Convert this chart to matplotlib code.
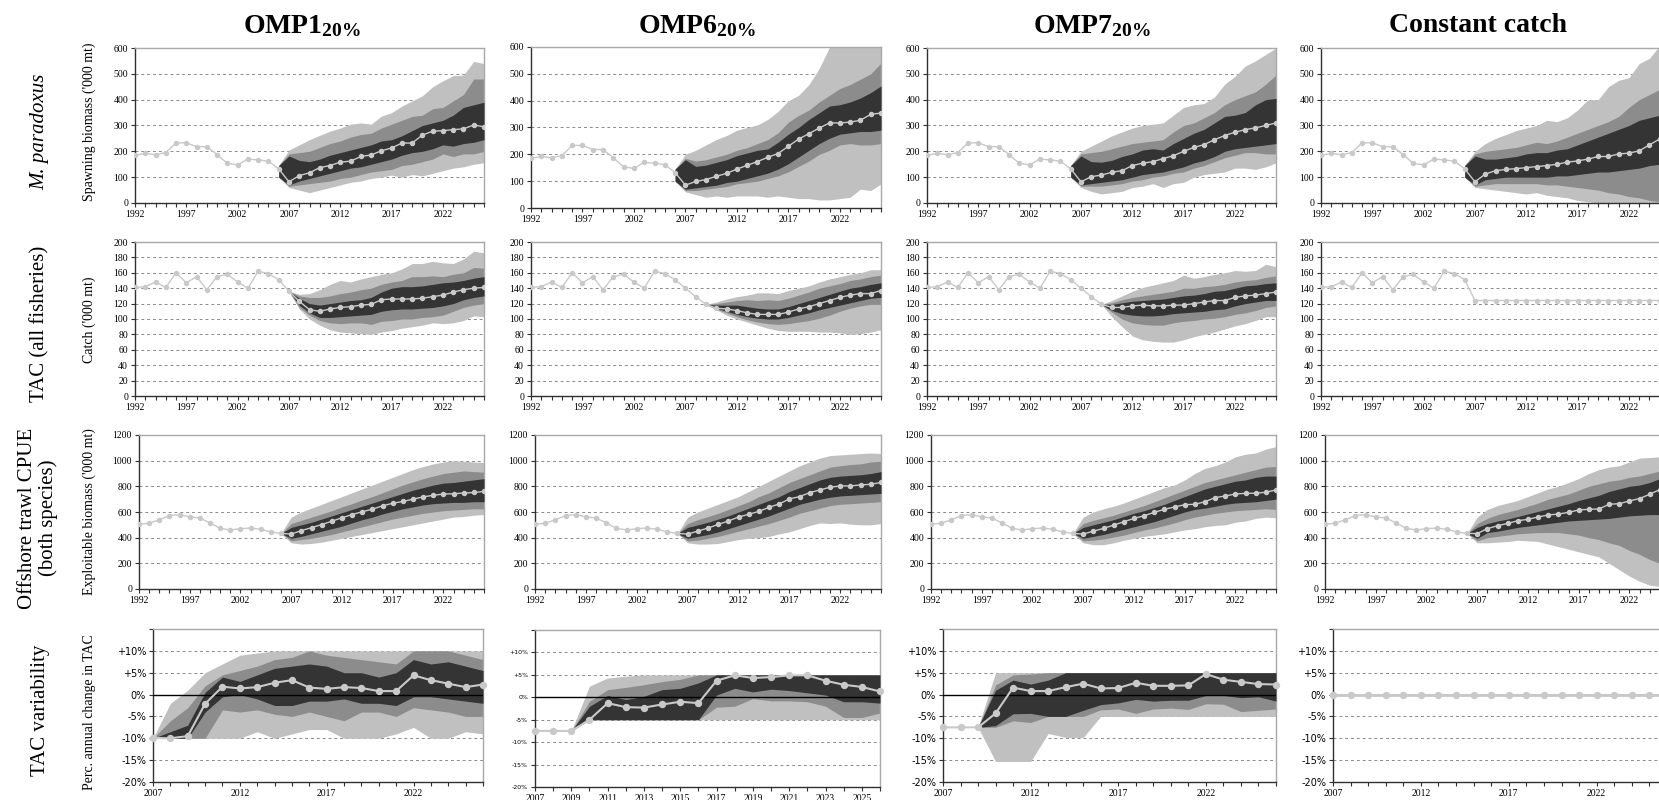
import matplotlib
matplotlib.use('Agg')
import matplotlib.pyplot as plt

plt.rcParams['font.family'] = ['Liberation Serif', 'DejaVu Serif']
plt.rcParams['mathtext.fontset'] = 'custom'
plt.rcParams['mathtext.rm'] = 'Liberation Serif'
plt.rcParams['mathtext.bf'] = 'Liberation Serif:bold'
plt.rcParams['mathtext.it'] = 'Liberation Serif:italic'

# ---------------- data ----------------
YEARS_HIST = list(range(1992, 2007))          # 1992..2006
YEARS_PROJ = list(range(2007, 2027))          # 2007..2026
YEARS_BAND_SSB = list(range(2006, 2027))      # fan starts 2006
YEARS_BAND_LATE = list(range(2009, 2027))     # fan starts 2009
COLUMN_TITLES = [r'$\mathbf{OMP1}_{\mathbf{20\%}}$', r'$\mathbf{OMP6}_{\mathbf{20\%}}$',
                 r'$\mathbf{OMP7}_{\mathbf{20\%}}$', 'Constant catch']
ROW_LABELS = ['M. paradoxus', 'TAC (all fisheries)', 'Offshore trawl CPUE\n(both species)', 'TAC variability']
Y_LABELS = ["Spawning biomass ('000 mt)", "Catch ('000 mt)", "Exploitable biomass ('000 mt)",
            "Perc. annual change in TAC"]

# Row 1: spawning biomass
SSB_HIST = [185, 192, 187, 195, 233, 233, 218, 218, 187, 153, 148, 170, 167, 162, 132]
SSB_OMP1_MED = [82, 106, 117, 137, 145, 158, 162, 180, 186, 202, 213, 232, 232, 263, 278, 280, 284, 287, 302, 295]
SSB_OMP1_LIGHT_HI = [145, 205, 225, 245, 262, 278, 290, 305, 310, 305, 336, 350, 375, 395, 415, 450, 473, 493, 495, 548, 540]
SSB_OMP1_MID_HI = [145, 190, 195, 200, 215, 230, 240, 255, 265, 270, 290, 305, 320, 335, 340, 365, 370, 395, 420, 480, 480]
SSB_OMP1_DARK_HI = [145, 182, 165, 160, 170, 185, 195, 205, 215, 225, 240, 245, 260, 280, 300, 310, 320, 340, 370, 380, 390]
SSB_OMP1_DARK_LO = [100, 70, 85, 95, 105, 115, 125, 135, 140, 150, 160, 170, 185, 195, 200, 210, 225, 220, 230, 235, 245]
SSB_OMP1_MID_LO = [100, 65, 70, 75, 80, 85, 95, 100, 110, 120, 125, 130, 145, 150, 160, 170, 190, 180, 190, 190, 200]
SSB_OMP1_LIGHT_LO = [100, 60, 50, 40, 50, 60, 70, 80, 85, 95, 100, 108, 100, 110, 105, 115, 125, 135, 140, 150, 156]

SSB_OMP6_MED = [85, 99, 106, 118, 129, 145, 159, 173, 189, 203, 230, 257, 277, 298, 317, 317, 320, 327, 349, 354]
SSB_OMP6_LIGHT_HI = [145, 200, 215, 235, 255, 270, 290, 300, 310, 330, 360, 400, 420, 460, 520, 600, 650, 650, 650, 650, 650]
SSB_OMP6_MID_HI = [145, 185, 175, 180, 190, 200, 215, 225, 240, 255, 280, 320, 345, 365, 395, 420, 445, 460, 480, 500, 540]
SSB_OMP6_DARK_HI = [145, 180, 155, 160, 170, 180, 195, 205, 215, 220, 245, 275, 300, 330, 355, 380, 385, 395, 410, 430, 455]
SSB_OMP6_DARK_LO = [100, 70, 75, 80, 85, 95, 100, 110, 120, 130, 145, 165, 190, 215, 240, 260, 275, 280, 285, 285, 290]
SSB_OMP6_MID_LO = [100, 65, 65, 70, 75, 80, 90, 95, 100, 110, 120, 135, 155, 175, 200, 215, 235, 240, 235, 235, 240]
SSB_OMP6_LIGHT_LO = [100, 60, 50, 40, 45, 40, 45, 45, 45, 40, 45, 40, 35, 35, 30, 30, 35, 40, 70, 65, 90]

SSB_OMP7_MED = [82, 102, 108, 119, 125, 145, 154, 160, 172, 183, 200, 215, 226, 245, 261, 274, 284, 291, 300, 310]
SSB_OMP7_LIGHT_HI = [145, 200, 220, 240, 260, 275, 290, 300, 305, 310, 340, 370, 380, 385, 410, 460, 490, 530, 550, 575, 600]
SSB_OMP7_MID_HI = [145, 190, 195, 200, 210, 220, 230, 235, 240, 245, 275, 300, 310, 330, 350, 380, 400, 415, 430, 460, 495]
SSB_OMP7_DARK_HI = [145, 182, 160, 158, 165, 180, 190, 205, 210, 205, 230, 250, 270, 285, 310, 335, 340, 350, 380, 400, 405]
SSB_OMP7_DARK_LO = [100, 70, 75, 80, 85, 90, 100, 110, 115, 120, 130, 140, 155, 165, 180, 200, 210, 215, 220, 225, 230]
SSB_OMP7_MID_LO = [100, 65, 65, 65, 70, 75, 85, 90, 100, 105, 115, 120, 135, 145, 160, 175, 185, 195, 195, 190, 190]
SSB_OMP7_LIGHT_LO = [100, 60, 45, 35, 40, 45, 60, 65, 75, 60, 75, 80, 100, 110, 115, 120, 135, 135, 130, 140, 155]

SSB_CONST_MED = [82, 112, 125, 130, 133, 137, 141, 145, 150, 158, 163, 170, 180, 180, 190, 193, 202, 225, 248, 275]
SSB_CONST_LIGHT_HI = [145, 200, 230, 250, 265, 280, 290, 300, 320, 315, 330, 360, 400, 400, 450, 475, 485, 540, 560, 610, 650]
SSB_CONST_MID_HI = [145, 190, 200, 205, 210, 215, 225, 235, 230, 240, 255, 270, 285, 300, 315, 335, 370, 400, 420, 440, 450]
SSB_CONST_DARK_HI = [145, 182, 170, 170, 175, 180, 190, 195, 195, 205, 210, 225, 240, 255, 270, 285, 300, 320, 330, 340, 350]
SSB_CONST_DARK_LO = [100, 70, 90, 95, 100, 100, 100, 100, 100, 105, 105, 110, 115, 120, 120, 125, 130, 135, 145, 150, 160]
SSB_CONST_MID_LO = [100, 65, 70, 75, 75, 75, 75, 75, 70, 70, 65, 60, 55, 50, 40, 35, 25, 20, 10, 5, 5]
SSB_CONST_LIGHT_LO = [100, 60, 55, 50, 45, 40, 35, 40, 30, 25, 20, 10, 5, 0, 0, 0, 0, 0, 0, 0, 0]

# Row 2: catch / TAC
CATCH_HIST = [141, 142, 148, 141, 160, 147, 155, 138, 155, 158, 148, 140, 162, 159, 151]
CATCH_0709 = [140, 129, 119]
CATCH_OMP1_MED = [136, 123, 112, 110, 113, 115, 116, 118, 119, 125, 126, 126, 126, 127, 129, 131, 135, 138, 140, 141]
CATCH_OMP1_LIGHT_HI = [136, 132, 133, 138, 145, 150, 148, 152, 155, 158, 160, 165, 172, 172, 175, 173, 172, 178, 188, 186]
CATCH_OMP1_MID_HI = [136, 130, 128, 128, 130, 133, 135, 138, 140, 145, 148, 150, 155, 155, 156, 155, 158, 160, 167, 166]
CATCH_OMP1_DARK_HI = [136, 127, 120, 118, 120, 122, 124, 125, 128, 135, 140, 142, 142, 143, 145, 147, 148, 150, 153, 155]
CATCH_OMP1_DARK_LO = [136, 118, 108, 102, 102, 103, 104, 105, 106, 110, 112, 113, 113, 114, 115, 117, 120, 125, 128, 130]
CATCH_OMP1_MID_LO = [136, 115, 105, 98, 95, 94, 95, 95, 93, 97, 98, 100, 100, 102, 103, 105, 110, 115, 118, 120]
CATCH_OMP1_LIGHT_LO = [136, 113, 100, 92, 86, 83, 82, 81, 80, 83, 85, 88, 90, 92, 95, 94, 95, 98, 104, 103]

CATCH_OMP6_MED = [114, 113, 111, 108, 106, 106, 106, 109, 113, 116, 120, 124, 128, 131, 133, 133, 137]
CATCH_OMP6_LIGHT_HI = [119, 122, 126, 129, 131, 134, 134, 133, 137, 140, 143, 148, 152, 155, 158, 160, 164, 164]
CATCH_OMP6_MID_HI = [119, 120, 122, 124, 125, 124, 125, 124, 127, 131, 135, 140, 143, 146, 150, 152, 155, 157]
CATCH_OMP6_DARK_HI = [119, 118, 118, 118, 116, 114, 113, 113, 116, 120, 124, 128, 132, 136, 140, 142, 145, 147]
CATCH_OMP6_DARK_LO = [119, 114, 110, 106, 103, 101, 100, 100, 102, 105, 108, 112, 115, 118, 121, 124, 127, 128]
CATCH_OMP6_MID_LO = [119, 113, 108, 103, 99, 96, 94, 93, 94, 96, 98, 101, 105, 110, 114, 117, 119, 119]
CATCH_OMP6_LIGHT_LO = [119, 112, 105, 100, 96, 92, 88, 85, 84, 84, 84, 83, 83, 82, 80, 81, 83, 86]

CATCH_OMP7_MED = [115, 115, 117, 118, 117, 117, 118, 118, 120, 122, 124, 124, 128, 130, 131, 133, 135]
CATCH_OMP7_LIGHT_HI = [119, 124, 130, 136, 141, 144, 147, 150, 157, 153, 155, 158, 160, 163, 162, 163, 171, 168]
CATCH_OMP7_MID_HI = [119, 121, 125, 128, 130, 132, 134, 136, 140, 140, 142, 143, 145, 148, 150, 151, 154, 156]
CATCH_OMP7_DARK_HI = [119, 119, 121, 123, 124, 125, 126, 128, 130, 131, 133, 136, 137, 140, 143, 144, 146, 147]
CATCH_OMP7_DARK_LO = [119, 111, 107, 105, 104, 104, 105, 107, 108, 109, 110, 112, 113, 117, 120, 122, 124, 124]
CATCH_OMP7_MID_LO = [119, 109, 100, 95, 93, 92, 92, 95, 97, 98, 100, 101, 103, 106, 108, 111, 115, 117]
CATCH_OMP7_LIGHT_LO = [119, 103, 90, 78, 73, 71, 70, 70, 73, 77, 80, 83, 87, 91, 94, 98, 103, 103]

CATCH_CONST = [124, 124, 124, 124, 124, 124, 124, 124, 124, 124, 124, 124, 124, 124, 124, 124, 124, 124, 124, 124]

# Row 3: exploitable biomass (CPUE)
CPUE_HIST = [505, 512, 540, 572, 580, 562, 553, 515, 473, 460, 470, 475, 465, 445, 433]
CPUE_OMP1_MED = [428, 455, 478, 502, 528, 555, 580, 602, 622, 648, 668, 682, 700, 718, 730, 740, 742, 748, 752, 760]
CPUE_OMP1_LIGHT_HI = [433, 560, 600, 630, 660, 690, 720, 750, 780, 810, 840, 870, 900, 930, 955, 975, 990, 1000, 995, 990, 985]
CPUE_OMP1_MID_HI = [433, 510, 535, 560, 585, 610, 640, 665, 695, 720, 750, 780, 810, 835, 860, 880, 900, 910, 920, 915, 910]
CPUE_OMP1_DARK_HI = [433, 480, 500, 520, 545, 570, 595, 620, 645, 670, 695, 720, 745, 770, 790, 810, 825, 830, 840, 850, 860]
CPUE_OMP1_DARK_LO = [433, 395, 410, 430, 450, 470, 490, 515, 540, 560, 585, 605, 625, 640, 655, 665, 670, 675, 675, 680, 680]
CPUE_OMP1_MID_LO = [433, 375, 385, 395, 410, 425, 445, 465, 485, 505, 525, 545, 560, 575, 590, 600, 610, 615, 620, 625, 625]
CPUE_OMP1_LIGHT_LO = [433, 360, 350, 355, 365, 380, 395, 410, 425, 440, 455, 470, 485, 500, 515, 530, 545, 560, 565, 575, 580]

CPUE_OMP6_MED = [428, 451, 475, 503, 530, 561, 582, 605, 637, 663, 702, 720, 751, 772, 793, 803, 803, 811, 816, 830]
CPUE_OMP6_LIGHT_HI = [433, 560, 600, 630, 660, 690, 720, 760, 800, 840, 880, 920, 960, 990, 1020, 1040, 1045, 1050, 1055, 1060, 1055]
CPUE_OMP6_MID_HI = [433, 510, 540, 565, 590, 620, 650, 680, 720, 750, 790, 830, 860, 890, 920, 950, 960, 970, 975, 990, 995]
CPUE_OMP6_DARK_HI = [433, 480, 500, 520, 545, 570, 600, 630, 660, 690, 720, 760, 790, 820, 850, 870, 880, 885, 890, 900, 915]
CPUE_OMP6_DARK_LO = [433, 395, 410, 425, 445, 470, 495, 520, 545, 570, 600, 630, 660, 680, 700, 715, 725, 730, 735, 740, 745]
CPUE_OMP6_MID_LO = [433, 375, 380, 395, 410, 430, 450, 470, 490, 510, 535, 560, 590, 610, 630, 650, 660, 665, 670, 675, 680]
CPUE_OMP6_LIGHT_LO = [433, 360, 350, 350, 355, 370, 385, 395, 400, 410, 430, 445, 470, 495, 515, 510, 515, 505, 500, 500, 510]

CPUE_OMP7_MED = [428, 451, 472, 498, 524, 550, 571, 597, 621, 639, 657, 660, 680, 712, 725, 740, 746, 746, 754, 772]
CPUE_OMP7_LIGHT_HI = [433, 560, 600, 625, 645, 670, 700, 730, 760, 790, 810, 850, 900, 940, 960, 990, 1030, 1050, 1060, 1090, 1110]
CPUE_OMP7_MID_HI = [433, 510, 535, 555, 575, 600, 625, 650, 680, 710, 740, 770, 800, 830, 850, 870, 890, 910, 930, 950, 955]
CPUE_OMP7_DARK_HI = [433, 480, 500, 520, 540, 565, 590, 610, 635, 660, 690, 720, 750, 780, 800, 820, 840, 850, 870, 880, 880]
CPUE_OMP7_DARK_LO = [433, 395, 410, 425, 445, 465, 485, 505, 525, 550, 575, 600, 620, 630, 645, 660, 670, 675, 680, 690, 700]
CPUE_OMP7_MID_LO = [433, 375, 380, 390, 405, 420, 440, 460, 475, 495, 515, 540, 560, 575, 590, 600, 610, 615, 620, 625, 620]
CPUE_OMP7_LIGHT_LO = [433, 360, 345, 345, 360, 380, 395, 410, 420, 430, 445, 460, 470, 485, 495, 500, 520, 530, 550, 560, 555]

CPUE_CONST_MED = [432, 470, 493, 511, 532, 543, 561, 577, 584, 597, 616, 621, 624, 660, 665, 686, 705, 738, 775, 800]
CPUE_CONST_LIGHT_HI = [433, 560, 620, 650, 670, 690, 720, 750, 780, 800, 830, 860, 900, 930, 950, 960, 990, 1020, 1025, 1030, 1035]
CPUE_CONST_MID_HI = [433, 510, 550, 580, 600, 620, 645, 670, 700, 720, 740, 770, 800, 820, 840, 850, 870, 880, 900, 920, 930]
CPUE_CONST_DARK_HI = [433, 480, 510, 530, 545, 565, 585, 605, 625, 645, 665, 690, 710, 730, 760, 780, 800, 810, 830, 860, 880]
CPUE_CONST_DARK_LO = [433, 395, 440, 450, 465, 480, 490, 500, 510, 520, 530, 535, 540, 545, 550, 560, 570, 575, 580, 580, 580]
CPUE_CONST_MID_LO = [433, 375, 400, 410, 420, 430, 435, 440, 440, 440, 430, 420, 400, 385, 360, 340, 300, 270, 230, 200, 180]
CPUE_CONST_LIGHT_LO = [433, 360, 360, 365, 370, 380, 375, 370, 350, 330, 310, 290, 270, 250, 200, 150, 100, 60, 30, 20, 15]

# Row 4: TAC variability (%)
VAR_OMP1_MED = [-9.9, -10, -9.5, -2.1, 1.8, 1.4, 1.7, 2.7, 3.3, 1.6, 1.3, 1.7, 1.5, 0.8, 0.8, 4.4, 3.3, 2.5, 1.7, 2.3]
VAR_OMP1_LIGHT_HI = [-10, -2, 1, 5, 7, 9, 9.5, 10, 10, 10, 10, 10, 10, 10, 10, 10, 10, 10, 10, 10]
VAR_OMP1_MID_HI = [-10, -6, -3, 2, 4.5, 5.5, 6.5, 8, 8.5, 10, 9, 8.5, 8, 7.5, 7, 10, 10, 10, 9, 8]
VAR_OMP1_DARK_HI = [-10, -8.5, -7, 0.5, 4, 3, 4.5, 6, 6.5, 7, 6.5, 5, 5, 4, 5, 8, 7, 7.5, 6.5, 5.5]
VAR_OMP1_DARK_LO = [-10, -10, -10, -4, -0.5, 0, -1, -2.5, -2.5, -1.5, -1.5, -1, -2, -2, -2.5, -0.5, -0.5, -1, -1.5, -2]
VAR_OMP1_MID_LO = [-10, -10, -10, -10, -3.5, -4, -3.5, -4.5, -5, -4, -5, -6, -4, -4, -5, -3, -3.5, -4, -5, -5]
VAR_OMP1_LIGHT_LO = [-10, -10, -10, -10, -10, -10, -8.5, -10, -9, -8, -8, -10, -10, -10, -9, -7.5, -10, -10, -8.5, -9]

VAR_OMP6_MED = [-7.5, -7.5, -7.5, -5.0, -1.3, -2.2, -2.3, -1.6, -1.0, -1.3, 3.7, 4.9, 4.3, 4.5, 4.9, 4.9, 3.7, 2.8, 2.3, 1.3]
VAR_OMP6_LIGHT_HI = [-7.5, 2.5, 4.3, 4.7, 5, 5, 5, 5, 5, 5, 5, 5, 5, 5, 5, 5, 5, 5]
VAR_OMP6_MID_HI = [-7.5, -0.9, 1.7, 2.2, 2.8, 3.5, 4, 5, 5, 5, 5, 5, 5, 5, 5, 5, 5, 5]
VAR_OMP6_DARK_HI = [-7.5, -2, 0.4, -0.5, 0.2, 1.7, 2, 3.2, 5, 5, 5, 5, 5, 5, 5, 5, 5, 5]
VAR_OMP6_DARK_LO = [-7.5, -5, -5, -5, -5, -5, -5, -5, 0.5, 2, 1.2, 1.8, 1.5, 1, 0.5, -1, -1, -1.3]
VAR_OMP6_MID_LO = [-7.5, -5, -5, -5, -5, -5, -5, -5, -2.2, -2, -0.3, -0.8, -0.8, -1, -2, -4.5, -4.5, -3.5]
VAR_OMP6_LIGHT_LO = [-7.5, -5, -5, -5, -5, -5, -5, -5, -5, -5, -5, -5, -5, -5, -5, -5, -5, -5]

VAR_OMP7_MED = [-7.5, -7.5, -7.5, -4.3, 1.6, 0.8, 0.8, 1.7, 2.5, 1.4, 1.5, 2.7, 2.0, 2.0, 2.1, 4.7, 3.4, 2.9, 2.4, 2.3]
VAR_OMP7_LIGHT_HI = [-7.5, 5, 5, 5, 5, 5, 5, 5, 5, 5, 5, 5, 5, 5, 5, 5, 5, 5]
VAR_OMP7_MID_HI = [-7.5, 2.2, 4.5, 4.7, 5, 5, 5, 5, 5, 5, 5, 5, 5, 5, 5, 5, 5, 5]
VAR_OMP7_DARK_HI = [-7.5, 1, 3.3, 2.4, 3.3, 5, 5, 5, 5, 5, 5, 5, 5, 5, 5, 5, 5, 5]
VAR_OMP7_DARK_LO = [-7.5, -7.1, -4.4, -4.3, -5, -5, -3.6, -2.3, -1.9, -1.1, -1.5, -1.3, -1.3, -0.2, -0.2, -0.7, -0.5, -1.5]
VAR_OMP7_MID_LO = [-7.5, -7.5, -6, -6.4, -5, -5, -5, -3.5, -3.3, -4.3, -3.3, -3.1, -3.4, -2.1, -2.2, -3.9, -3.6, -3.3]
VAR_OMP7_LIGHT_LO = [-7.5, -15.3, -15.3, -15.3, -8.9, -9.8, -9.8, -5, -5, -5, -5, -5, -5, -5, -5, -5, -5, -5]

VAR_CONST_MED = [0, 0, 0, 0, 0, 0, 0, 0, 0, 0, 0, 0, 0, 0, 0, 0, 0, 0, 0, 0]

# ---------------- style ----------------
LIGHT = '#c0c0c0'
MID = '#8c8c8c'
DARK = '#343434'
LINE = '#c9c9c9'
AX_DARK = '#303030'
AX_LIGHT = '#a8a8a8'
GRID = '#8a8a8a'

W, H = 1659, 800
fig = plt.figure(figsize=(W / 100, H / 100), dpi=100)
fig.patch.set_facecolor('white')


def add_ax(left, top, right, bottom):
    return fig.add_axes([left / W, 1 - bottom / H, (right - left) / W, (bottom - top) / H])


def style(ax, ylim, ystep, yfmt, xlim, xlab_years, ysize=7, yfamily=None):
    ax.set_xlim(*xlim)
    ax.set_ylim(*ylim)
    yr = list(range(xlim[0], xlim[1] + 1))
    ax.set_xticks(yr)
    ax.set_xticklabels([str(y) if y in xlab_years else '' for y in yr], fontsize=7)
    yt = []
    v = ylim[0]
    while v <= ylim[1] + 1e-9:
        yt.append(v)
        v += ystep
    ax.set_yticks(yt)
    ax.set_yticklabels([yfmt(t) for t in yt], fontsize=ysize,
                       family=yfamily if yfamily else None)
    for t in yt[1:]:
        if t < ylim[1] and t != 0:
            ax.axhline(t, color=GRID, lw=0.7, ls=(0, (3, 3)), zorder=0.5)
    ax.tick_params(axis='both', direction='out', length=3, width=0.8, color=AX_DARK, pad=2)
    ax.spines['left'].set_color(AX_DARK)
    ax.spines['bottom'].set_color(AX_DARK)
    ax.spines['top'].set_color(AX_LIGHT)
    ax.spines['right'].set_color(AX_LIGHT)
    for s in ax.spines.values():
        s.set_linewidth(1.0)


def fan(ax, yrs, llo, lhi, mlo, mhi, dlo, dhi):
    ax.fill_between(yrs, llo, lhi, color=LIGHT, lw=0, zorder=1)
    ax.fill_between(yrs, mlo, mhi, color=MID, lw=0, zorder=2)
    ax.fill_between(yrs, dlo, dhi, color=DARK, lw=0, zorder=3)


def line(ax, xs, ys, big=False):
    if big:
        ax.plot(xs, ys, color=LINE, lw=1.5, marker='o', ms=4.3, mfc=LINE, mec=LINE, zorder=6, clip_on=False)
    else:
        ax.plot(xs, ys, color=LINE, lw=1.0, marker='o', ms=2.9, mfc=LINE, mec=LINE, zorder=6)


col_left = [135, 531, 927, 1321]
col_right = [484, 881, 1276, 1670]
row_tb = [(48, 203), (242, 396), (435, 589)]
hist_ticks = [1992, 1997, 2002, 2007, 2012, 2017, 2022]

ssb_sets = [
    (SSB_OMP1_MED, SSB_OMP1_LIGHT_LO, SSB_OMP1_LIGHT_HI, SSB_OMP1_MID_LO, SSB_OMP1_MID_HI, SSB_OMP1_DARK_LO, SSB_OMP1_DARK_HI),
    (SSB_OMP6_MED, SSB_OMP6_LIGHT_LO, SSB_OMP6_LIGHT_HI, SSB_OMP6_MID_LO, SSB_OMP6_MID_HI, SSB_OMP6_DARK_LO, SSB_OMP6_DARK_HI),
    (SSB_OMP7_MED, SSB_OMP7_LIGHT_LO, SSB_OMP7_LIGHT_HI, SSB_OMP7_MID_LO, SSB_OMP7_MID_HI, SSB_OMP7_DARK_LO, SSB_OMP7_DARK_HI),
    (SSB_CONST_MED, SSB_CONST_LIGHT_LO, SSB_CONST_LIGHT_HI, SSB_CONST_MID_LO, SSB_CONST_MID_HI, SSB_CONST_DARK_LO, SSB_CONST_DARK_HI),
]
cpue_sets = [
    (CPUE_OMP1_MED, CPUE_OMP1_LIGHT_LO, CPUE_OMP1_LIGHT_HI, CPUE_OMP1_MID_LO, CPUE_OMP1_MID_HI, CPUE_OMP1_DARK_LO, CPUE_OMP1_DARK_HI),
    (CPUE_OMP6_MED, CPUE_OMP6_LIGHT_LO, CPUE_OMP6_LIGHT_HI, CPUE_OMP6_MID_LO, CPUE_OMP6_MID_HI, CPUE_OMP6_DARK_LO, CPUE_OMP6_DARK_HI),
    (CPUE_OMP7_MED, CPUE_OMP7_LIGHT_LO, CPUE_OMP7_LIGHT_HI, CPUE_OMP7_MID_LO, CPUE_OMP7_MID_HI, CPUE_OMP7_DARK_LO, CPUE_OMP7_DARK_HI),
    (CPUE_CONST_MED, CPUE_CONST_LIGHT_LO, CPUE_CONST_LIGHT_HI, CPUE_CONST_MID_LO, CPUE_CONST_MID_HI, CPUE_CONST_DARK_LO, CPUE_CONST_DARK_HI),
]
catch_sets = [
    (CATCH_OMP1_LIGHT_LO, CATCH_OMP1_LIGHT_HI, CATCH_OMP1_MID_LO, CATCH_OMP1_MID_HI, CATCH_OMP1_DARK_LO, CATCH_OMP1_DARK_HI),
    (CATCH_OMP6_LIGHT_LO, CATCH_OMP6_LIGHT_HI, CATCH_OMP6_MID_LO, CATCH_OMP6_MID_HI, CATCH_OMP6_DARK_LO, CATCH_OMP6_DARK_HI),
    (CATCH_OMP7_LIGHT_LO, CATCH_OMP7_LIGHT_HI, CATCH_OMP7_MID_LO, CATCH_OMP7_MID_HI, CATCH_OMP7_DARK_LO, CATCH_OMP7_DARK_HI),
]
var_sets = [
    (VAR_OMP1_MED, VAR_OMP1_LIGHT_LO, VAR_OMP1_LIGHT_HI, VAR_OMP1_MID_LO, VAR_OMP1_MID_HI, VAR_OMP1_DARK_LO, VAR_OMP1_DARK_HI),
    (VAR_OMP6_MED, VAR_OMP6_LIGHT_LO, VAR_OMP6_LIGHT_HI, VAR_OMP6_MID_LO, VAR_OMP6_MID_HI, VAR_OMP6_DARK_LO, VAR_OMP6_DARK_HI),
    (VAR_OMP7_MED, VAR_OMP7_LIGHT_LO, VAR_OMP7_LIGHT_HI, VAR_OMP7_MID_LO, VAR_OMP7_MID_HI, VAR_OMP7_DARK_LO, VAR_OMP7_DARK_HI),
    (VAR_CONST_MED,),
]

intfmt = lambda t: '%d' % t
pctfmt = lambda t: ('+%d%%' % t) if t > 0 else ('%d%%' % t)

for c in range(4):
    # ---- Row 1 : spawning biomass
    top, bot = row_tb[0]
    if c == 1:
        top, bot = 47, 208
    ax = add_ax(col_left[c], top, col_right[c], bot)
    style(ax, (0, 600), 100, intfmt, (1992, 2026), hist_ticks)
    med, llo, lhi, mlo, mhi, dlo, dhi = ssb_sets[c]
    fan(ax, YEARS_BAND_SSB, llo, lhi, mlo, mhi, dlo, dhi)
    line(ax, YEARS_HIST + YEARS_PROJ, SSB_HIST + med)

    # ---- Row 2 : catch
    top, bot = row_tb[1]
    ax = add_ax(col_left[c], top, col_right[c], bot)
    style(ax, (0, 200), 20, intfmt, (1992, 2026), hist_ticks)
    if c == 0:
        fan(ax, YEARS_PROJ, *catch_sets[0])
        line(ax, YEARS_HIST + YEARS_PROJ, CATCH_HIST + CATCH_OMP1_MED)
    elif c in (1, 2):
        fan(ax, YEARS_BAND_LATE, *catch_sets[c])
        med = CATCH_OMP6_MED if c == 1 else CATCH_OMP7_MED
        line(ax, YEARS_HIST + YEARS_PROJ, CATCH_HIST + CATCH_0709 + med)
    else:
        line(ax, YEARS_HIST + YEARS_PROJ, CATCH_HIST + CATCH_CONST)

    # ---- Row 3 : exploitable biomass
    top, bot = row_tb[2]
    ax = add_ax(col_left[c] + 4, top, col_right[c], bot)
    style(ax, (0, 1200), 200, intfmt, (1992, 2026), hist_ticks)
    med, llo, lhi, mlo, mhi, dlo, dhi = cpue_sets[c]
    fan(ax, YEARS_BAND_SSB, llo, lhi, mlo, mhi, dlo, dhi)
    line(ax, YEARS_HIST + YEARS_PROJ, CPUE_HIST + med)

# ---- Row 4 : TAC variability
r4_left = [153, 535, 943, 1333]
r4_right = [483, 880, 1276, 1667]
for c in range(4):
    top, bot = (630, 787) if c == 1 else (629, 782)
    ax = add_ax(r4_left[c], top, r4_right[c], bot)
    if c == 1:
        style(ax, (-20, 15), 5, pctfmt, (2007, 2026), list(range(2007, 2027, 2)),
              ysize=4.5, yfamily='DejaVu Sans')
    else:
        style(ax, (-20, 15), 5, pctfmt, (2007, 2026), [2007, 2012, 2017, 2022],
              ysize=7, yfamily='DejaVu Sans')
    labs = ax.get_yticklabels()
    labs[-1].set_visible(False)
    ax.axhline(0, color='black', lw=1.0, zorder=4)
    s = var_sets[c]
    if c in (0,):
        fan(ax, YEARS_PROJ, *s[1:])
    elif c in (1, 2):
        fan(ax, YEARS_BAND_LATE, *s[1:])
    line(ax, YEARS_PROJ, s[0], big=True)

# ---------------- texts ----------------
title_x = [302, 697, 1092, 1478]
for x, t in zip(title_x, COLUMN_TITLES):
    fig.text(x / W, 1 - 26 / H, t, ha='center', va='center', fontsize=20, fontweight='bold')

row_label_y = [132, 324, 518, 710]
fig.text(40 / W, 1 - row_label_y[0] / H, ROW_LABELS[0], rotation=90, ha='center', va='center',
         fontsize=15, style='italic')
fig.text(40 / W, 1 - row_label_y[1] / H, ROW_LABELS[1], rotation=90, ha='center', va='center', fontsize=15)
fig.text(38 / W, 1 - row_label_y[2] / H, ROW_LABELS[2], rotation=90, ha='center', va='center',
         fontsize=15, multialignment='center', linespacing=1.15)
fig.text(40 / W, 1 - row_label_y[3] / H, ROW_LABELS[3], rotation=90, ha='center', va='center', fontsize=15)

ylab_y = [122, 320, 512, 712]
for y, t in zip(ylab_y, Y_LABELS):
    fig.text(89 / W, 1 - y / H, t, rotation=90, ha='center', va='center', fontsize=10)

fig.savefig('out.png', dpi=100, facecolor='white')
